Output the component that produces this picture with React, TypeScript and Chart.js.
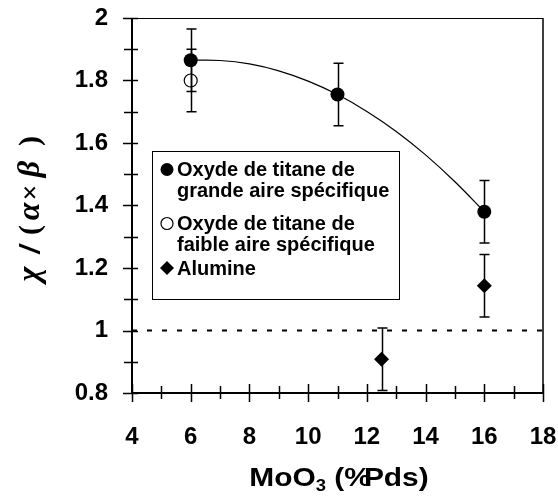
import React, { useEffect, useRef } from 'react';
import { Chart, registerables } from 'chart.js';

Chart.register(...registerables);

// ---- data ----
const grandeX = [6, 11, 16];
const grandeY = [1.865, 1.755, 1.38];
const grandeErr = [0.1, 0.1, 0.1];

const faibleX = [6];
const faibleY = [1.8];
const faibleErr = [0.1];

const alumineX = [12.5, 16];
const alumineY = [0.908, 1.143];
const alumineErr = [0.1, 0.1];

// trend curve
const fitX = [6, 7, 8, 9, 10, 11, 12, 13, 14, 15, 16];
const fitY = [1.865, 1.864, 1.853, 1.831, 1.798, 1.755, 1.701, 1.637, 1.562, 1.476, 1.38];

// reference level
const refX = [4, 18];
const refY = [1, 1];

const xMin = 4;
const xMax = 18;
const xStep = 2;
const yMin = 0.8;
const yMax = 2;
const yStep = 0.2;

const legendLabels = [
  ['Oxyde de titane de', 'grande aire spécifique'],
  ['Oxyde de titane de', 'faible aire spécifique'],
  ['Alumine'],
];

const SANS = "'Liberation Sans', Arial, sans-serif";
const SERIF = "'Liberation Serif', 'Times New Roman', serif";

function toPts(xs: number[], ys: number[]) {
  return xs.map((x, i) => ({ x, y: ys[i] }));
}

const frameAndTicks = {
  id: 'frameAndTicks',
  beforeDatasetsDraw(chart: any) {
    const { ctx, chartArea: a, scales } = chart;
    const xs = scales.x;
    const ys = scales.y;
    ctx.save();
    ctx.strokeStyle = '#000';
    ctx.lineWidth = 1.2;
    ctx.beginPath();
    ctx.moveTo(a.left, a.top + 0.5);
    ctx.lineTo(a.right, a.top + 0.5);
    ctx.stroke();
    ctx.lineWidth = 1.5;
    ctx.beginPath();
    ctx.moveTo(a.right, a.top);
    ctx.lineTo(a.right, a.bottom);
    ctx.stroke();
    ctx.lineWidth = 2;
    ctx.beginPath();
    ctx.moveTo(a.left, a.top);
    ctx.lineTo(a.left, a.bottom + 1);
    ctx.moveTo(a.left - 1, a.bottom);
    ctx.lineTo(a.right, a.bottom);
    ctx.stroke();
    ctx.lineWidth = 1.5;
    ctx.beginPath();
    for (let v = xMin; v <= xMax + 1e-9; v += xStep / 2) {
      const px = Math.round(xs.getPixelForValue(v)) + 0.5;
      const major = Math.abs(v / xStep - Math.round(v / xStep)) < 1e-6;
      ctx.moveTo(px, a.bottom - (major ? 9 : 7));
      ctx.lineTo(px, a.bottom + (major ? 9 : 6));
    }
    for (let k = 0; k <= Math.round((yMax - yMin) / (yStep / 2)); k++) {
      const v = yMin + k * (yStep / 2);
      const py = Math.round(ys.getPixelForValue(v)) + 0.5;
      const major = k % 2 === 0;
      ctx.moveTo(a.left - (major ? 9 : 8), py);
      ctx.lineTo(a.left + 6, py);
    }
    ctx.stroke();
    ctx.restore();
  },
};

const errorBars = {
  id: 'errorBars',
  afterDatasetsDraw(chart: any) {
    const { ctx, scales } = chart;
    const ys = scales.y;
    ctx.save();
    ctx.strokeStyle = '#000';
    ctx.lineWidth = 1.5;
    chart.data.datasets.forEach((ds: any, di: number) => {
      if (!ds.errors) return;
      const meta = chart.getDatasetMeta(di);
      meta.data.forEach((el: any, i: number) => {
        const v = ds.data[i].y;
        const e = ds.errors[i];
        const x = Math.round(el.x) + 0.5;
        const top = ys.getPixelForValue(v + e);
        const bot = ys.getPixelForValue(v - e);
        ctx.beginPath();
        ctx.moveTo(x, top);
        ctx.lineTo(x, bot);
        ctx.moveTo(x - 5, top);
        ctx.lineTo(x + 5, top);
        ctx.moveTo(x - 5, bot);
        ctx.lineTo(x + 5, bot);
        ctx.stroke();
      });
    });
    ctx.restore();
  },
};

const legendBox = {
  id: 'legendBox',
  afterDraw(chart: any) {
    const { ctx } = chart;
    const bx = 152.5, by = 151.5, bw = 247, bh = 148;
    ctx.save();
    ctx.fillStyle = '#fff';
    ctx.fillRect(bx, by, bw, bh);
    ctx.strokeStyle = '#000';
    ctx.lineWidth = 1;
    ctx.strokeRect(bx, by, bw, bh);
    const mx = 167;
    ctx.fillStyle = '#000';
    ctx.beginPath();
    ctx.arc(mx, 169.5, 6.5, 0, Math.PI * 2);
    ctx.fill();
    ctx.lineWidth = 1.2;
    ctx.beginPath();
    ctx.arc(mx, 223.5, 6, 0, Math.PI * 2);
    ctx.stroke();
    ctx.beginPath();
    ctx.moveTo(mx - 7, 268);
    ctx.lineTo(mx, 261);
    ctx.lineTo(mx + 7, 268);
    ctx.lineTo(mx, 275);
    ctx.closePath();
    ctx.fill();
    ctx.font = `bold 20px ${SANS}`;
    ctx.textAlign = 'left';
    ctx.textBaseline = 'alphabetic';
    const baselines = [[176, 197], [230, 251], [275]];
    legendLabels.forEach((lines, i) => {
      lines.forEach((ln, j) => ctx.fillText(ln, 177, baselines[i][j]));
    });
    ctx.restore();
  },
};

const axisTitles = {
  id: 'axisTitles',
  afterDraw(chart: any) {
    const { ctx } = chart;
    ctx.save();
    ctx.fillStyle = '#000';
    ctx.textBaseline = 'alphabetic';
    ctx.textAlign = 'left';
    // x title: MoO3 (%Pds)
    const xParts = [
      { t: 'MoO', f: `bold 26px ${SANS}`, dy: 0, k: 0 },
      { t: '3', f: `bold 16px ${SANS}`, dy: 5, k: 0 },
      { t: ' (%', f: `bold 26px ${SANS}`, dy: 0, k: -6 },
      { t: 'Pds)', f: `bold 26px ${SANS}`, dy: 0, k: 0 },
    ];
    let tw = 0;
    xParts.forEach((p) => { ctx.font = p.f; tw += ctx.measureText(p.t).width + p.k; });
    ctx.translate(339, 486);
    ctx.scale(1.15, 1);
    let cx = -tw / 2;
    xParts.forEach((p) => {
      ctx.font = p.f;
      ctx.fillText(p.t, cx, p.dy);
      cx += ctx.measureText(p.t).width + p.k;
    });
    ctx.setTransform(1, 0, 0, 1, 0, 0);
    // y title: χ / (α × β), each glyph centred on its place along the axis
    const yParts = [
      { t: 'χ', f: `bold italic 32px ${SERIF}`, c: 274 },
      { t: '/', f: `bold italic 28px ${SANS}`, c: 249.5 },
      { t: '(', f: `bold 30px ${SERIF}`, c: 230 },
      { t: 'α', f: `bold italic 32px ${SERIF}`, c: 211.5 },
      { t: '×', f: `bold 28px ${SERIF}`, c: 192.5 },
      { t: 'β', f: `bold italic 32px ${SERIF}`, c: 169 },
      { t: ')', f: `bold 30px ${SERIF}`, c: 141 },
    ];
    ctx.translate(39, 0);
    ctx.rotate(-Math.PI / 2);
    ctx.textAlign = 'center';
    yParts.forEach((p) => {
      ctx.font = p.f;
      ctx.fillText(p.t, -p.c, 0);
    });
    ctx.restore();
  },
};

export default function App() {
  const ref = useRef<HTMLCanvasElement>(null);
  useEffect(() => {
    if (!ref.current) return;
    const tickFont = { family: SANS, size: 24, weight: 'bold' as const };
    const chart = new Chart(ref.current, {
      type: 'scatter',
      data: {
        datasets: [
          {
            label: 'Oxyde de titane de grande aire spécifique',
            data: toPts(grandeX, grandeY),
            errors: grandeErr,
            pointStyle: 'circle',
            pointRadius: 7,
            backgroundColor: '#000',
            borderColor: '#000',
            borderWidth: 0,
            showLine: false,
          } as any,
          {
            label: 'Oxyde de titane de faible aire spécifique',
            data: toPts(faibleX, faibleY),
            errors: faibleErr,
            pointStyle: 'circle',
            pointRadius: 6.5,
            backgroundColor: 'rgba(0,0,0,0)',
            borderColor: '#000',
            borderWidth: 1.2,
            showLine: false,
          } as any,
          {
            label: 'Alumine',
            data: toPts(alumineX, alumineY),
            errors: alumineErr,
            pointStyle: 'rectRot',
            pointRadius: 7.5,
            backgroundColor: '#000',
            borderColor: '#000',
            borderWidth: 0,
            showLine: false,
          } as any,
          {
            label: 'fit',
            data: toPts(fitX, fitY),
            showLine: true,
            tension: 0.4,
            pointRadius: 0,
            borderColor: '#000',
            borderWidth: 1.2,
            fill: false,
          },
          {
            label: 'ref',
            data: toPts(refX, refY),
            showLine: true,
            pointRadius: 0,
            borderColor: '#000',
            borderWidth: 2.2,
            borderDash: [5, 10],
            fill: false,
          },
        ],
      },
      options: {
        responsive: false,
        animation: false,
        events: [],
        layout: { padding: { top: 18, right: 15, left: 0, bottom: 0 } },
        plugins: { legend: { display: false }, tooltip: { enabled: false } },
        scales: {
          x: {
            type: 'linear',
            min: xMin,
            max: xMax,
            afterFit: (s: any) => { s.height = 107; },
            grid: { display: false, drawTicks: true, tickLength: 30 },
            border: { display: false },
            ticks: {
              stepSize: xStep,
              color: '#000',
              font: tickFont,
              padding: 0,
              maxRotation: 0,
              autoSkip: false,
              callback: (v: any) => String(Math.round(Number(v))),
            },
          },
          y: {
            type: 'linear',
            min: yMin,
            max: yMax,
            afterFit: (s: any) => { s.width = 132; },
            grid: { display: false, drawTicks: true, tickLength: 24 },
            border: { display: false },
            ticks: {
              stepSize: yStep,
              color: '#000',
              font: tickFont,
              padding: 0,
              autoSkip: false,
              callback: (v: any) => String(Math.round(Number(v) * 10) / 10),
            },
          },
        },
      },
      plugins: [frameAndTicks, errorBars, legendBox, axisTitles],
    });
    return () => chart.destroy();
  }, []);
  return (
    <div style={{ position: 'fixed', left: 0, top: 0, width: 558, height: 500, background: '#fff' }}>
      <canvas ref={ref} width={558} height={500} style={{ width: 558, height: 500, display: 'block' }} />
    </div>
  );
}
